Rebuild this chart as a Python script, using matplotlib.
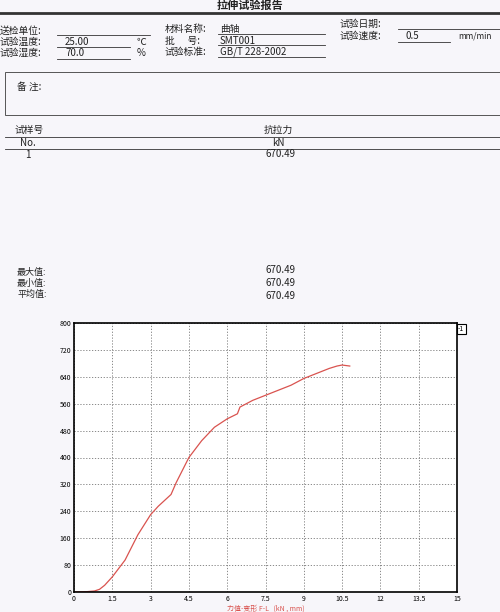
import matplotlib.pyplot as plt
from matplotlib.patches import Rectangle

plt.rcParams['font.family'] = ['Noto Sans CJK SC', 'DejaVu Sans']

disp = [0, 0.5, 0.8, 1.0, 1.2, 1.5, 2.0, 2.5, 3.0, 3.3, 3.8, 4.0, 4.5, 5.0, 5.5,
        6.0, 6.4, 6.5, 7.0, 7.5, 8.0, 8.5, 9.0, 9.5, 10.0, 10.3, 10.5, 10.8]
force = [0, 1, 3, 8, 20, 45, 95, 170, 230, 255, 290, 325, 400, 450, 490,
         515, 530, 550, 570, 585, 600, 615, 635, 650, 665, 672, 675, 672]
x_ticks = [0, 1.5, 3, 4.5, 6, 7.5, 9, 10.5, 12, 13.5, 15]
y_ticks = [0, 80, 160, 240, 320, 400, 480, 560, 640, 720, 800]
stats = [('最大值:', '670.49'), ('最小值:', '670.49'), ('平均值:', '670.49')]

W, H = 500, 612
fig = plt.figure(figsize=(5, 6.12), dpi=100)
fig.patch.set_facecolor('#f7f6fa')

def t(x, y, s, **kw):
    kw.setdefault('fontsize', 7)
    fig.text(x / W, 1 - y / H, s, va='center', color='#222222', **kw)

def hline(x0, x1, y, lw=0.6):
    fig.add_artist(plt.Line2D([x0 / W, x1 / W], [1 - y / H, 1 - y / H],
                              color='#333333', lw=lw))

t(250, 5, '拉伸试验报告', fontsize=8, ha='center', weight='bold')
hline(0, 500, 13, lw=2)

t(0, 31, '送检单位:'); t(0, 42, '试验温度:'); t(0, 53, '试验湿度:')
t(65, 42, '25.00'); t(65, 53, '70.0')
t(137, 42, '℃'); t(137, 53, '%')
hline(57, 150, 35); hline(57, 130, 47); hline(57, 130, 59)
t(165, 29, '材料名称:'); t(165, 41, '批      号:'); t(165, 52, '试验标准:')
t(220, 29, '曲轴'); t(220, 41, 'SMT001'); t(220, 52, 'GB/T 228-2002')
hline(218, 325, 34); hline(218, 325, 45); hline(218, 325, 57)
t(340, 24, '试验日期:'); t(340, 36, '试验速度:')
t(405, 36, '0.5'); t(458, 36, 'mm/min', fontsize=6)
hline(398, 500, 29); hline(398, 450, 42)

fig.add_artist(Rectangle((5 / W, 1 - 115 / H), 495 / W, 43 / H, fill=False,
                         lw=0.7, edgecolor='#555555'))
t(17, 87, '备 注:')

t(15, 130, '试样号'); t(20, 143, 'No.'); t(25, 155, '1')
t(278, 130, '抗拉力', ha='center'); t(278, 143, 'kN', ha='center')
t(280, 154, '670.49', ha='center')
hline(5, 500, 137); hline(5, 500, 149)

for i, (lab, val) in enumerate(stats):
    t(17, 272 + 11 * i, lab, fontsize=6.5)
    t(280, 270 + 13 * i, val, ha='center')

ax = fig.add_axes([74 / W, 1 - 592 / H, 383 / W, 269 / H])
ax.plot(disp, force, color='#d9534f', lw=0.9)
ax.set_xlim(0, 15)
ax.set_ylim(0, 800)
ax.set_xticks(x_ticks)
ax.set_xticklabels(['0', '1.5', '3', '4.5', '6', '7.5', '9', '10.5', '12', '13.5', '15'])
ax.set_yticks(y_ticks)
ax.tick_params(labelsize=5, length=0, pad=2)
ax.grid(True, linestyle=(0, (1.5, 2)), color='#777777', lw=0.6)
ax.set_facecolor('white')
for s in ax.spines.values():
    s.set_linewidth(1.2)
ax.set_xlabel('力值-变形 F-L   (kN , mm)', fontsize=5, color='#d9534f',
              style='italic', labelpad=1)
fig.text(458 / W, 1 - 331 / H, '-1', fontsize=5,
         bbox=dict(boxstyle='square,pad=0.2', fc='white', ec='black', lw=0.8))

fig.savefig('out.png', dpi=100)
